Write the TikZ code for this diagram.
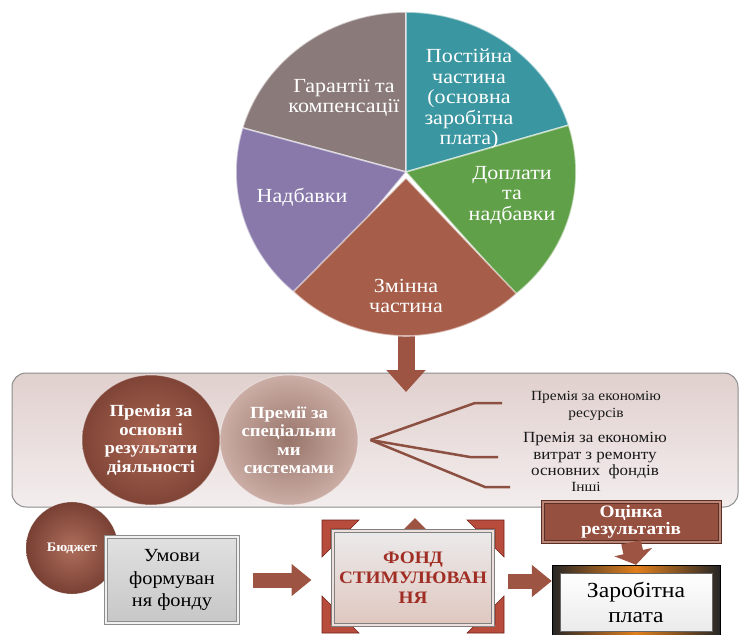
\documentclass[tikz,border=0pt]{standalone}
\usepackage{fontspec}
\setmainfont{Liberation Serif}[FakeStretch=1.1]
\usetikzlibrary{arrows.meta,shapes.geometric}

\definecolor{pieGray}{RGB}{138,122,121}
\definecolor{pieTeal}{RGB}{58,150,160}
\definecolor{pieGreen}{RGB}{96,160,72}
\definecolor{pieBrown}{RGB}{166,94,74}
\definecolor{piePurple}{RGB}{136,121,170}
\definecolor{arrowBrown}{RGB}{158,84,67}
\definecolor{darkBrown}{RGB}{150,80,64}
\definecolor{lightBrown}{RGB}{180,138,126}
\definecolor{panelTop}{RGB}{224,208,206}
\definecolor{panelBot}{RGB}{243,237,237}
\definecolor{fanBrown}{RGB}{140,80,66}
\definecolor{fondRed}{RGB}{160,46,36}
\definecolor{bracketRed}{RGB}{184,76,60}

\tikzset{
  pietext/.style={text=white, align=center, inner sep=0.75pt, font=\fontsize{20}{20.5}\selectfont},
  slice/.style={draw=white, draw opacity=0.55, line width=1.6pt},
  blockarrow/.style={draw=arrowBrown, line width=17pt, -{Triangle[length=22pt,width=38pt]}},
  ballnode/.style={ellipse, inner sep=0pt, text=white, align=center, draw=white, draw opacity=0.4, line width=1pt,
    font=\bfseries\fontsize{17}{18.5}\selectfont},
  fanline/.style={draw=fanBrown, line width=2.5pt},
  righttext/.style={align=center, inner sep=0.75pt, text=black!90},
  bevelbox/.style={rectangle, align=center, double distance=2pt, line width=1pt}
}

\begin{document}
\begin{tikzpicture}[x=1pt,y=1pt,yscale=-1]
\useasboundingbox (0,0) rectangle (743,634);

%Shape: Rounded Rect [id:panel]
\node[rectangle, rounded corners=14pt, minimum width=726pt, minimum height=134pt, top color=panelTop, bottom color=panelBot,
  draw=black!45, line width=1pt] (panel) at (375,440) {};

%Block Arrow [id:pie-panel]
\coordinate (zminnaBase) at (406,325);
\coordinate (arrTip) at (406,392);
\draw[blockarrow] (zminnaBase) -- (arrTip);

%Shape: Pie [id:pie]
\coordinate (pc) at (406,172);
\fill[pieGray] (pc) -- ++(-90:170 and 160) arc[start angle=-90, end angle=-164, x radius=170, y radius=160] -- cycle;
\draw[slice] (pc) -- ++(-90:170 and 160) arc[start angle=-90, end angle=-164, x radius=170, y radius=160] -- cycle;
\fill[pieTeal] (pc) -- ++(-17:170 and 160) arc[start angle=-17, end angle=-90, x radius=170, y radius=160] -- cycle;
\draw[slice] (pc) -- ++(-17:170 and 160) arc[start angle=-17, end angle=-90, x radius=170, y radius=160] -- cycle;
\fill[pieGreen] (pc) -- ++(50:170 and 160) arc[start angle=50, end angle=-17, x radius=170, y radius=160] -- cycle;
\draw[slice] (pc) -- ++(50:170 and 160) arc[start angle=50, end angle=-17, x radius=170, y radius=160] -- cycle;
\fill[piePurple] (pc) -- ++(-164:170 and 160) arc[start angle=-164, end angle=-232, x radius=170, y radius=160] -- cycle;
\draw[slice] (pc) -- ++(-164:170 and 160) arc[start angle=-164, end angle=-232, x radius=170, y radius=160] -- cycle;
%exploded slice
\fill[pieBrown] (406,178) -- ++(134:162 and 158) arc[start angle=134, end angle=47, x radius=162, y radius=158] -- cycle;
\draw[slice] (406,178) -- ++(134:162 and 158) arc[start angle=134, end angle=47, x radius=162, y radius=158] -- cycle;

% Text Node
\node[pietext] (garant) at (344,98) {Гарантії та\\компенсації};
% Text Node
\node[pietext] (postiyna) at (469,99) {Постійна\\частина\\(основна\\заробітна\\плата)};
% Text Node
\node[pietext] (doplaty) at (512,195) {Доплати\\та\\надбавки};
% Text Node
\node[pietext] (nadbavky) at (302,197) {Надбавки};
% Text Node
\node[pietext] (zminna) at (406,296) {Змінна\\частина};

%Shape: Ellipse [id:prem]
\node[ballnode, minimum width=138pt, minimum height=130pt, inner color=pieBrown!95!white, outer color=darkBrown!85!black] (premosn) at (151,440)
  {Премія за\\основні\\результати\\діяльності};
\node[ballnode, minimum width=138pt, minimum height=130pt, inner color=lightBrown!85!black, outer color=lightBrown!70!white] (premspec) at (289,440)
  {Премії за\\спеціальни\\ми\\системами};

% Text Node
\node[righttext, font=\fontsize{14}{17}\selectfont] (ekres) at (596,406) {Премія за економію\\ресурсів};
% Text Node
\node[righttext, font=\fontsize{15.5}{16.5}\selectfont] (ekrem) at (595,456) {Премія за економію\\витрат з ремонту\\основних~ фондів};
% Text Node
\node[righttext, font=\fontsize{14}{16}\selectfont] (inshi) at (586,487) {Інші};

%Straight Lines [id:fan]
\coordinate (f1) at (502,403);
\coordinate (f2) at (498,457);
\coordinate (f3) at (510,487);
\draw[fanline] ([xshift=12pt]premspec.east) -- (475,403) -- (f1);
\draw[fanline] ([xshift=12pt]premspec.east) -- (470,457) -- (f2);
\draw[fanline] ([xshift=12pt]premspec.east) -- (485,487) -- (f3);

%Shape: Circle [id:budget]
\node[circle, minimum size=92pt, inner sep=0pt, inner color=pieBrown!90!white, outer color=darkBrown!80!black, draw=white, draw opacity=0.4,
  text=white, font=\bfseries\fontsize{13}{15}\selectfont] (budget) at (72,548) {Бюджет};

%Shape: Rectangle [id:umovy]
\node[bevelbox, minimum width=132pt, minimum height=86pt, top color=black!12, bottom color=black!22, draw=black!45, double=black!6,
  font=\fontsize{18.5}{22.5}\selectfont] (umovy) at (172,580) {Умови\\формуван\\ня фонду};

%Shape: Triangle [id:fondtop]
\fill[arrowBrown] (415,518) -- (430,533) -- (400,533) -- cycle;
%Shape: Corner brackets [id:fond]
\foreach \cx/\cy/\sx/\sy in {322/520/1/1, 504/520/-1/1, 322/633/1/-1, 504/633/-1/-1}
  \filldraw[fill=bracketRed, draw=fondRed!70!black, line width=0.6pt, shift={(\cx,\cy)}, xscale=\sx, yscale=\sy]
    (0,0) -- (37,0) -- (28,9) -- (9,9) -- (9,28) -- (0,37) -- cycle;
\node[bevelbox, minimum width=160pt, minimum height=94pt, top color=black!8, bottom color=pieBrown!35!white, draw=black!50, double=white!80!pieBrown,
  text=fondRed, font=\bfseries\fontsize{17.5}{20}\selectfont] (fond) at (413,578) {ФОНД\\СТИМУЛЮВАН\\НЯ};

%Shape: Rectangle [id:ocinka]
\node[bevelbox, minimum width=177pt, minimum height=39pt, fill=darkBrown, draw=darkBrown!60!black, double=pieBrown!75!white,
  text=white, font=\bfseries\fontsize{17.5}{17}\selectfont] (ocinka) at (631,522) {Оцінка\\результатів};

%Shape: Rectangle [id:zarplata]
\node[rectangle, minimum width=168pt, minimum height=76pt, left color=black!85, right color=black!85, middle color=orange!55!brown,
  draw=black] (zarframe) at (636,603) {};
\node[rectangle, minimum width=152pt, minimum height=58pt, top color=white, bottom color=black!8, draw=black!60,
  font=\fontsize{21.5}{25}\selectfont, align=center] (zarplata) at (636,602) {Заробітна\\плата};

%Block Arrows [id:flow]
\draw[blockarrow, line width=15pt, -{Triangle[length=20pt,width=31pt]}, shorten <=14pt, shorten >=21pt] (umovy.east) -- (umovy.east -| fond.west);
\draw[blockarrow, line width=15pt, -{Triangle[length=20pt,width=31pt]}, shorten <=14pt] ([yshift=3pt]fond.east) -- ([yshift=3pt]fond.east -| zarframe.west);
\draw[blockarrow, line width=20pt, -{Triangle[length=13pt,width=38pt]}] (ocinka.south) -- (zarframe.north);

\end{tikzpicture}
\end{document}
